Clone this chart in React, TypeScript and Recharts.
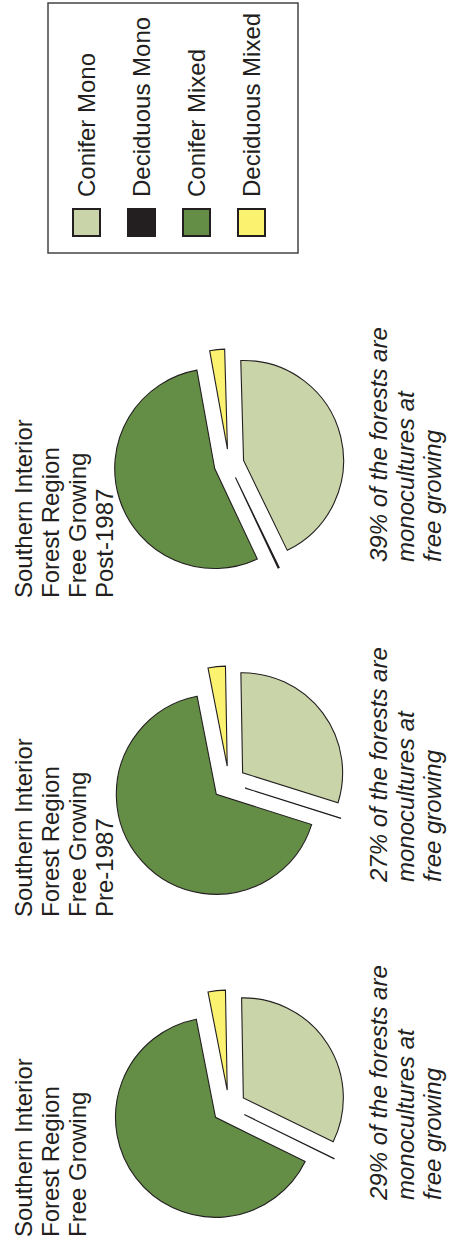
import React from "react";
import { PieChart, Pie, Cell, Sector } from "recharts";

// forest type categories and their colours
const categories = ["Conifer Mono", "Deciduous Mono", "Conifer Mixed", "Deciduous Mixed"];
const COLORS = ["#c9d5a8", "#231f20", "#648e46", "#fbf26f"];

// share of each type (percent)
const freeGrowing = [32.5, 0.05, 64.6, 2.8];
const pre1987 = [30.1, 0.05, 67.0, 2.8];
const post1987 = [43.2, 0.2, 54.1, 2.4];

const titles = [
  ["Southern Interior", "Forest Region", "Free Growing"],
  ["Southern Interior", "Forest Region", "Free Growing", "Pre-1987"],
  ["Southern Interior", "Forest Region", "Free Growing", "Post-1987"],
];
const monoShares = ["29%", "27%", "39%"];

const series = [freeGrowing, pre1987, post1987];

// layout of the three panels (in the unrotated frame)
const panels = [
  { cx: 135, titleX: 5, captionX: 42, start: 1, explode: 17 },
  { cx: 459, titleX: 325, captionX: 360, start: 1, explode: 17 },
  { cx: 778, titleX: 644, captionX: 680, start: 1.6, explode: 15 },
];

const RADIAN = Math.PI / 180;
const FONT = "'Liberation Sans', Arial, Helvetica, sans-serif";
const INK = "#231f20";

const exploded = (dist: number) => (props: any) => {
  const mid = (props.startAngle + props.endAngle) / 2;
  const dx = dist * Math.cos(-mid * RADIAN);
  const dy = dist * Math.sin(-mid * RADIAN);
  return (
    <Sector
      cx={props.cx + dx}
      cy={props.cy + dy}
      innerRadius={props.innerRadius}
      outerRadius={props.outerRadius}
      startAngle={props.startAngle}
      endAngle={props.endAngle}
      fill={props.fill}
      stroke={INK}
      strokeWidth={1.1}
    />
  );
};

export default function App() {
  return (
    <div style={{ position: "absolute", left: 0, top: 0, width: 451, height: 1242, overflow: "hidden", background: "#fff" }}>
      <div
        style={{
          width: 1242,
          height: 451,
          transformOrigin: "0 0",
          transform: "translateY(1242px) rotate(-90deg)",
        }}
      >
        <PieChart width={1242} height={451} margin={{ top: 0, right: 0, bottom: 0, left: 0 }}>
          {series.map((values, p) => {
            const data = categories.map((name, i) => ({ name, value: values[i] }));
            const cfg = panels[p];
            return (
              <Pie
                key={`pie-${p}`}
                data={data}
                dataKey="value"
                nameKey="name"
                cx={cfg.cx}
                cy={229}
                outerRadius={100}
                startAngle={cfg.start}
                endAngle={cfg.start - 360}
                stroke={INK}
                strokeWidth={1.1}
                shape={exploded(cfg.explode)}
                isAnimationActive={false}
              >
                {data.map((_, i) => (
                  <Cell key={`cell-${p}-${i}`} fill={COLORS[i]} />
                ))}
              </Pie>
            );
          })}

          {titles.map((lines, p) => (
            <text key={`title-${p}`} x={panels[p].titleX} y={32} fontFamily={FONT} fontSize={24} fill={INK}>
              {lines.map((line, j) => (
                <tspan key={j} x={panels[p].titleX} y={32 + j * 27}>
                  {line}
                </tspan>
              ))}
            </text>
          ))}

          {monoShares.map((pct, p) => (
            <text key={`cap-${p}`} fontFamily={FONT} fontSize={24} fontStyle="italic" fill={INK}>
              {[`${pct} of the forests are`, "monocultures at", "free growing"].map((line, j) => (
                <tspan key={j} x={panels[p].captionX} y={387 + j * 27}>
                  {line}
                </tspan>
              ))}
            </text>
          ))}

          <g>
            <rect x={989} y={48} width={250} height={250} fill="#fff" stroke="#444" strokeWidth={1.5} />
            {categories.map((name, i) => (
              <g key={name}>
                <rect x={1006} y={73 + i * 55} width={27} height={27} fill={COLORS[i]} stroke={INK} strokeWidth={2} />
                <text x={1045} y={95 + i * 55} fontFamily={FONT} fontSize={24} fill={INK}>
                  {name}
                </text>
              </g>
            ))}
          </g>
        </PieChart>
      </div>
    </div>
  );
}
